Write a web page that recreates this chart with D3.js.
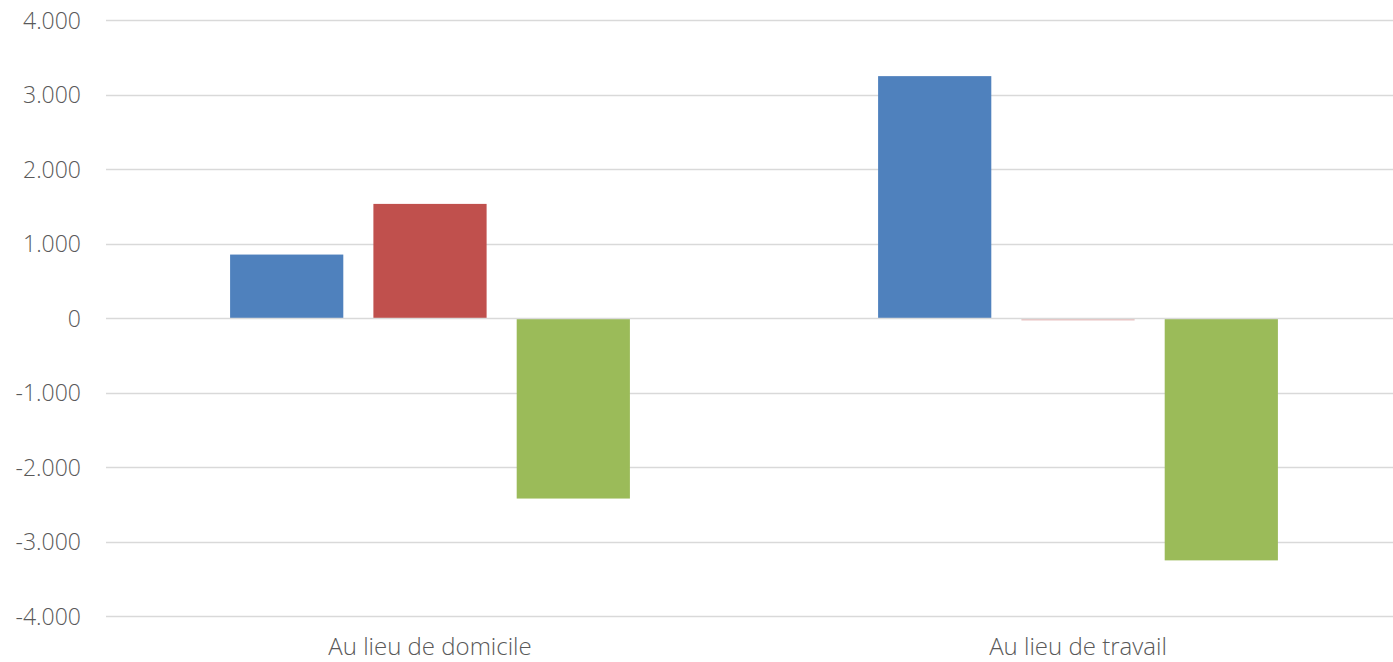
<!DOCTYPE html>
<html>
<head>
<meta charset="utf-8">
<script src="https://cdn.jsdelivr.net/npm/d3@7"></script>
<style>
  html, body { margin: 0; padding: 0; background: #fff; }
  svg text { font-family: "Open Sans", "Noto Sans", sans-serif; fill: #595959; }
</style>
</head>
<body>
<svg id="chart" width="1393" height="662"></svg>
<script>
// Categories and series values
const categories = ["Au lieu de domicile", "Au lieu de travail"];
const seriesKeys = ["s1", "s2", "s3"];
const seriesColors = ["#4F81BD", "#C0504D", "#9BBB59"];
const valuesS1 = [865, 3260];
const valuesS2 = [1545, -20];
const valuesS3 = [-2410, -3240];
const yTicks = [-4000, -3000, -2000, -1000, 0, 1000, 2000, 3000, 4000];

const seriesValues = [valuesS1, valuesS2, valuesS3];
const data = categories.map((c, i) => ({
  category: c,
  values: seriesKeys.map((k, j) => ({ key: k, value: seriesValues[j][i], color: seriesColors[j] }))
}));

const svg = d3.select("#chart");
const plot = { left: 106, right: 1402, top: 21, bottom: 617 };
const labelFont = "Lato, 'Open Sans', sans-serif";

const y = d3.scaleLinear().domain([-4000, 4000]).range([plot.bottom, plot.top]);
const x0 = d3.scaleBand().domain(categories).range([plot.left, plot.right]).padding(0);
const groupWidth = x0.bandwidth() * 0.617;
const x1 = d3.scaleBand().domain(seriesKeys)
  .range([(x0.bandwidth() - groupWidth) / 2, (x0.bandwidth() + groupWidth) / 2])
  .paddingInner(0.21).paddingOuter(0);

// Thousands separated with a dot, plain hyphen for negatives
const fmt = v => d3.format(",")(v).replace(/,/g, ".").replace("\u2212", "-");

// Gridlines (behind the bars)
const gridLine = sel => sel
  .attr("x1", plot.left)
  .attr("x2", plot.right)
  .attr("y1", d => Math.round(y(d)) - 0.5)
  .attr("y2", d => Math.round(y(d)) - 0.5)
  .attr("stroke", "#d9d9d9")
  .attr("stroke-width", 1.5);

svg.append("g")
  .selectAll("line")
  .data(yTicks.filter(t => t !== 0))
  .join("line")
  .call(gridLine);

// Bars
const groups = svg.append("g")
  .selectAll("g")
  .data(data)
  .join("g")
  .attr("transform", d => `translate(${x0(d.category)},0)`);

groups.selectAll("rect")
  .data(d => d.values)
  .join("rect")
  .attr("x", d => x1(d.key))
  .attr("width", x1.bandwidth())
  .attr("y", d => Math.min(y(d.value), y(0)))
  .attr("height", d => Math.abs(y(d.value) - y(0)))
  .attr("fill", d => d.color)
  .attr("fill-opacity", d => Math.abs(y(d.value) - y(0)) < 3 ? 0.35 : 1);

// Zero line on top of the bar bases
svg.append("g")
  .selectAll("line")
  .data([0])
  .join("line")
  .call(gridLine);

// Y axis labels
const yAxis = d3.axisLeft(y).tickValues(yTicks).tickFormat(fmt).tickSize(0).tickPadding(0);
const gy = svg.append("g").attr("transform", `translate(${plot.left - 25},0)`).call(yAxis);
gy.select(".domain").remove();
gy.selectAll("text")
  .attr("font-size", 23)
  .attr("font-weight", 300)
  .attr("font-family", labelFont)
  .attr("fill", "#595959");

// Category labels
const xAxis = d3.axisBottom(x0).tickSize(0).tickPadding(0);
const gx = svg.append("g").attr("transform", `translate(0,${plot.bottom + 21})`).call(xAxis);
gx.select(".domain").remove();
gx.selectAll("text")
  .attr("font-size", 24)
  .attr("font-weight", 300)
  .attr("font-family", labelFont)
  .attr("fill", "#595959");
</script>
</body>
</html>
